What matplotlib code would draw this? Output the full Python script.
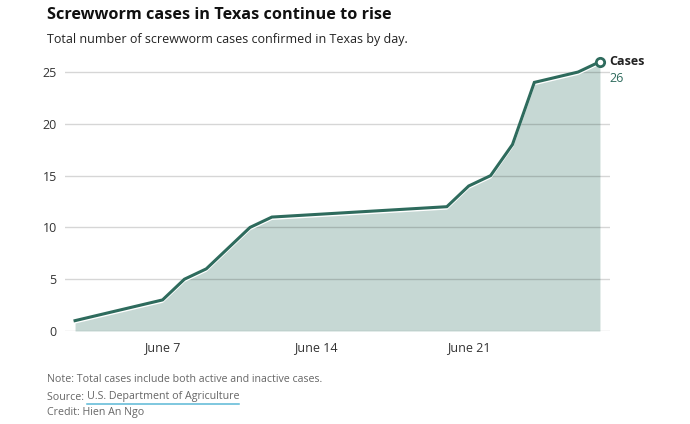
import datetime as dt
import matplotlib
matplotlib.use("Agg")
import matplotlib.pyplot as plt
import matplotlib.patheffects as pe

# data
dates = ["2025-06-03", "2025-06-07", "2025-06-08", "2025-06-09", "2025-06-11",
         "2025-06-12", "2025-06-20", "2025-06-21", "2025-06-22", "2025-06-23",
         "2025-06-24", "2025-06-26", "2025-06-27"]
cases = [1, 3, 5, 6, 10, 11, 12, 14, 15, 18, 24, 25, 26]
xtick_dates = ["2025-06-07", "2025-06-14", "2025-06-21"]
xtick_labels = ["June 7", "June 14", "June 21"]
yticks = [0, 5, 10, 15, 20, 25]

line_col = "#2e6b5d"
fill_col = "#c6d8d4"

plt.rcParams["font.family"] = ["Open Sans", "DejaVu Sans"]

x = [dt.datetime.strptime(d, "%Y-%m-%d") for d in dates]
xt = [dt.datetime.strptime(d, "%Y-%m-%d") for d in xtick_dates]

fig = plt.figure(figsize=(6.9, 4.24), dpi=100)
W, H = 690, 424
ax = fig.add_axes([65 / W, (H - 331) / H, 545 / W, (331 - 56.5) / H])

pad = dt.timedelta(days=0.46)
ax.set_xlim(x[0] - pad, x[-1] + pad)
ax.set_ylim(0, 26.5)

ax.fill_between(x, cases, 0, color=fill_col, lw=0, zorder=1)
for yv in yticks:
    ax.axhline(yv, color="black", alpha=0.16, lw=1, zorder=2)
ax.plot(x, cases, color=line_col, lw=2.2, zorder=3, solid_joinstyle="miter",
        path_effects=[pe.Stroke(offset=(0, -1.4), linewidth=1.4, foreground="white"),
                      pe.Normal()])
ax.plot(x[-1:], cases[-1:], "o", ms=6, mfc="white", mec=line_col, mew=2, zorder=4,
        clip_on=False)

ax.set_xticks(xt)
ax.set_xticklabels(xtick_labels)
ax.set_yticks(yticks)
ax.tick_params(length=0, labelsize=9, colors="#333333")
ax.tick_params(axis="x", pad=7)
ax.tick_params(axis="y", pad=6)
for s in ax.spines.values():
    s.set_visible(False)

ax.annotate("Cases", (x[-1], cases[-1]), xytext=(7, 0), textcoords="offset points",
            ha="left", va="center", fontsize=9, fontweight="bold", color="#222222")
ax.annotate(str(cases[-1]), (x[-1], cases[-1]), xytext=(7, -12), textcoords="offset points",
            ha="left", va="center", fontsize=9, color=line_col)

fig.text(47 / W, 1 - 15 / H, "Screwworm cases in Texas continue to rise",
         fontsize=11.7, fontweight="bold", color="#111111", va="center")
fig.text(47 / W, 1 - 39 / H, "Total number of screwworm cases confirmed in Texas by day.",
         fontsize=9, color="#222222", va="center")

foot = "#666666"
fs = 7.7
fig.text(47 / W, 1 - 380 / H, "Note: Total cases include both active and inactive cases.",
         fontsize=fs, color=foot, va="center")
src = fig.text(47 / W, 1 - 397 / H, "Source: ", fontsize=fs, color=foot, va="center")
fig.text(47 / W, 1 - 413 / H, "Credit: Hien An Ngo", fontsize=fs, color=foot, va="center")

r = fig.canvas.get_renderer()
bb = src.get_window_extent(r)
link = fig.text(bb.x1 / W, 1 - 397 / H, "U.S. Department of Agriculture",
                fontsize=fs, color=foot, va="center")
lb = link.get_window_extent(r)
fig.add_artist(plt.Line2D([lb.x0 / W, lb.x1 / W], [(H - 403.5) / H] * 2,
                          color="#5bb8d6", lw=1.1))

fig.savefig("out.png", dpi=100)
